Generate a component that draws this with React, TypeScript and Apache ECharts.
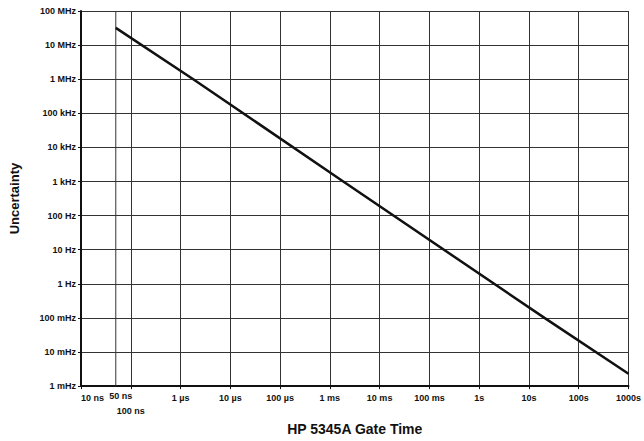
import React, { useEffect, useRef } from "react";
import * as echarts from "echarts";

// Gate time (s) and uncertainty (Hz)
const gateTimes = [5e-8, 1.8e-6, 1.86e-3, 20.5, 1000];
const uncertainty = [3.2e7, 1e6, 1e3, 0.1, 0.0023];

// decade tick labels (x: 1e-8 .. 1e3, y: 1e-3 .. 1e8)
const xExponents = [-8, -7, -6, -5, -4, -3, -2, -1, 0, 1, 2, 3];
const xTickLabels = ["10 ns", "\n100 ns", "1 \u00b5s", "10 \u00b5s", "100 \u00b5s", "1 ms", "10 ms", "100 ms", "1s", "10s", "100s", "1000s"];
const yExponents = [-3, -2, -1, 0, 1, 2, 3, 4, 5, 6, 7, 8];
const yTickLabels = ["1 mHz", "10 mHz", "100 mHz", "1 Hz", "10 Hz", "100 Hz", "1 kHz", "10 kHz", "100 kHz", "1 MHz", "10 MHz", "100 MHz"];
const extraGateLine = 5e-8;
const extraGateLabel = "50 ns";
const yMin = 1e-3;
const yMax = 1e8;

const FONT = "'Liberation Sans', Arial, Helvetica, sans-serif";

export default function App() {
  const ref = useRef<HTMLDivElement>(null);
  useEffect(() => {
    const chart = echarts.init(ref.current!, null, { renderer: "svg" });
    const lbl = (exps: number[], texts: string[]) => (v: number) => {
      const e = Math.round(Math.log10(v));
      const i = exps.indexOf(e);
      return i >= 0 ? texts[i] : "";
    };
    chart.setOption({
      animation: false,
      backgroundColor: "#fff",
      grid: { left: 78, right: 6, top: 11, bottom: 52 },
      xAxis: {
        type: "log",
        logBase: 10,
        min: 1e-8,
        max: 1e3,
        interval: 1,
        name: "HP 5345A Gate Time",
        nameLocation: "middle",
        nameGap: 35,
        nameTextStyle: { fontFamily: FONT, fontWeight: "bold", fontSize: 14, color: "#111" },
        axisLine: { show: true, lineStyle: { color: "#111", width: 2 } },
        axisTick: { show: true, length: 3, lineStyle: { color: "#111" } },
        axisLabel: {
          formatter: lbl(xExponents, xTickLabels),
          fontFamily: FONT,
          fontWeight: "bold",
          fontSize: 9,
          color: "#111",
          margin: 5,
          alignMinLabel: "left",
          showMinLabel: true,
          showMaxLabel: true,
          hideOverlap: false,
          lineHeight: 13,
        },
        splitLine: { show: true, lineStyle: { color: "#333", width: 1 } },
      },
      yAxis: {
        type: "log",
        logBase: 10,
        min: yMin,
        max: yMax,
        interval: 1,
        name: "Uncertainty",
        nameLocation: "middle",
        nameRotate: 90,
        nameGap: 60,
        nameTextStyle: { fontFamily: FONT, fontWeight: "bold", fontSize: 13, color: "#111" },
        axisLine: { show: true, lineStyle: { color: "#111", width: 2 } },
        axisTick: { show: true, length: 3, lineStyle: { color: "#111" } },
        axisLabel: {
          formatter: lbl(yExponents, yTickLabels),
          fontFamily: FONT,
          fontWeight: "bold",
          fontSize: 9,
          color: "#111",
          margin: 5,
          showMinLabel: true,
          showMaxLabel: true,
          hideOverlap: false,
        },
        splitLine: { show: true, lineStyle: { color: "#333", width: 1 } },
      },
      series: [
        {
          type: "line",
          data: gateTimes.map((t, i) => [t, uncertainty[i]]),
          symbol: "none",
          lineStyle: { color: "#111", width: 2.5 },
          z: 5,
        },
        {
          type: "line",
          data: [
            [extraGateLine, yMin],
            [extraGateLine, yMax],
          ],
          symbol: "none",
          silent: true,
          lineStyle: { color: "#333", width: 1 },
          z: 1,
          markPoint: {
            symbol: "rect",
            symbolSize: 0,
            silent: true,
            label: {
              show: true,
              formatter: extraGateLabel,
              position: "bottom",
              distance: 5,
              offset: [5, 0],
              fontFamily: FONT,
              fontWeight: "bold",
              fontSize: 9,
              color: "#111",
            },
            data: [{ coord: [extraGateLine, yMin] }],
          },
        },
      ],
    });
    return () => chart.dispose();
  }, []);
  return <div ref={ref} style={{ position: "absolute", left: 0, top: 0, width: 644, height: 441 }} />;
}
